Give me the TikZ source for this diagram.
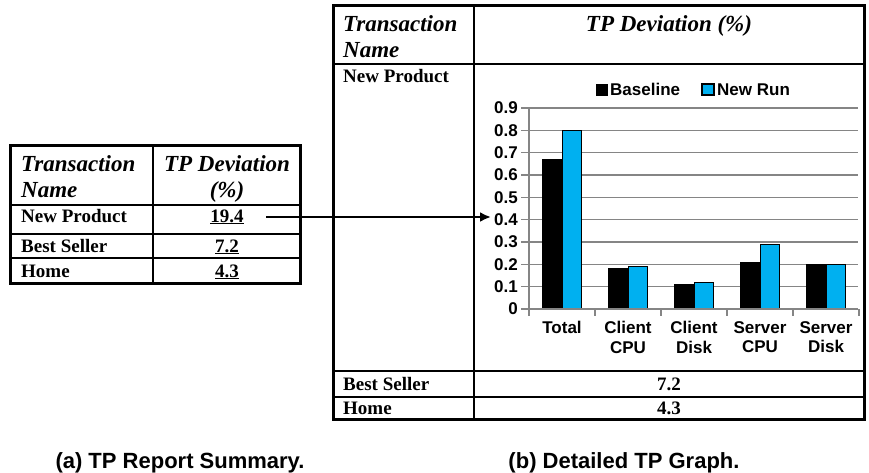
\documentclass[tikz,border=0pt]{standalone}
\usepackage{fontspec}
\setmainfont{Liberation Serif}
\newfontfamily\arialf{Liberation Sans}
\usetikzlibrary{arrows.meta}
\definecolor{runblue}{HTML}{00B0F0}
\definecolor{gridgray}{HTML}{858585}
\tikzset{
 hdr/.style={font=\fontsize{23}{26}\selectfont\bfseries\itshape, inner sep=0pt},
 body/.style={font=\fontsize{19}{22}\selectfont\bfseries, inner sep=0pt},
 chartlbl/.style={font=\arialf\fontsize{17}{19.7}\selectfont\bfseries, inner sep=0pt},
 captiontext/.style={font=\arialf\fontsize{22}{25}\selectfont\bfseries, inner sep=0pt},
 outerline/.style={line width=3pt},
 innerline/.style={line width=2.2pt},
 gridline/.style={draw=gridgray, line width=1.5pt},
 barB/.style={fill=black, draw=black, line width=1.2pt},
 barN/.style={fill=runblue, draw=black, line width=1.2pt},
 arr/.style={line width=2.6pt, -{Latex[length=11pt,width=10pt]}},
}
\begin{document}
\begin{tikzpicture}[x=1pt,y=-1pt]
\useasboundingbox (0,0) rectangle (869,472);
% ---------- left table ----------
\draw[innerline] (153,145) -- (153,283);
\draw[innerline] (10,205) -- (300,205);
\draw[innerline] (10,234) -- (300,234);
\draw[innerline] (10,258) -- (300,258);
\draw[outerline] (10,145) rectangle (300,283);
\node[hdr, anchor=base west] (lt1) at (21,171) {Transaction};
\node[hdr, anchor=base west] (lt2) at (21,197) {Name};
\node[hdr, anchor=base] (lh1) at (227,171) {TP Deviation};
\node[hdr, anchor=base] (lh2) at (227,197) {(\%)};
\node[body, anchor=base west] (lnp) at (21,222) {New Product};
\node[body, anchor=base] (v194) at (227,222) {\underline{19.4}};
\node[body, anchor=base west] (lbs) at (21,252) {Best Seller};
\node[body, anchor=base] (v72) at (227,252) {\underline{7.2}};
\node[body, anchor=base west] (lhm) at (21,277) {Home};
\node[body, anchor=base] (v43) at (227,277) {\underline{4.3}};
% ---------- right table ----------
\draw[innerline] (474,5) -- (474,419);
\draw[innerline] (333,64) -- (864,64);
\draw[innerline] (333,371) -- (864,371);
\draw[innerline] (333,397) -- (864,397);
\draw[outerline] (333,5) rectangle (864,419);
\node[hdr, anchor=base west] (rt1) at (343,31) {Transaction};
\node[hdr, anchor=base west] (rt2) at (343,57) {Name};
\node[hdr, anchor=base] (rh) at (669,31) {TP Deviation (\%)};
\node[body, anchor=base west] (rnp) at (343,82) {New Product};
\node[body, anchor=base west] (rbs) at (343,390) {Best Seller};
\node[body, anchor=base] (r72) at (669,390) {7.2};
\node[body, anchor=base west] (rhm) at (343,414) {Home};
\node[body, anchor=base] (r43) at (669,414) {4.3};
% ---------- chart ----------
\foreach \v in {1,...,9} {
  \draw[gridline] (529,309-\v*22.33) -- (858,309-\v*22.33);
  \draw[gridline] (521,309-\v*22.33) -- (529,309-\v*22.33);
  \node[chartlbl, anchor=east] (yl\v) at (518,309-\v*22.33) {0.\v};
}
\node[chartlbl, anchor=east] (yl0) at (518,309) {0};
\foreach \i/\b/\n in {0/0.67/0.80, 1/0.18/0.19, 2/0.11/0.12, 3/0.21/0.29, 4/0.20/0.20} {
  \draw[barB] (529+66*\i+13.7,309) rectangle (529+66*\i+33.3,309-\b*223.3);
  \draw[barN] (529+66*\i+33.3,309) rectangle (529+66*\i+52.3,309-\n*223.3);
}
\draw[gridline] (529,309) -- (858,309);
\draw[gridline] (521,309) -- (529,309);
\draw[gridline] (529,108) -- (529,309);
\foreach \i in {0,...,5} {
  \draw[gridline] (529+66*\i,309) -- (529+66*\i,316);
}
\node[chartlbl, anchor=north, align=center] (c0) at (562,321) {Total};
\node[chartlbl, anchor=north, align=center] (c1) at (628,321) {Client\\CPU};
\node[chartlbl, anchor=north, align=center] (c2) at (694,321) {Client\\Disk};
\node[chartlbl, anchor=north, align=center] (c3) at (760,321) {Server\\CPU};
\node[chartlbl, anchor=north, align=center] (c4) at (826,321) {Server\\Disk};
% legend
\draw[fill=black] (596,84) rectangle (607,95);
\node[chartlbl, anchor=base west] (lgb) at (610,95) {Baseline};
\draw[fill=runblue, draw=black, line width=1.2pt] (702,84) rectangle (714,95);
\node[chartlbl, anchor=base west] (lgn) at (717,95) {New Run};
% ---------- arrow ----------
\coordinate (arrS) at (266,217);
\coordinate (arrE) at (491,217);
\draw[arr] (arrS) -- (arrE);
% ---------- captions ----------
\node[captiontext, anchor=base] (capa) at (180,468) {(a) TP Report Summary.};
\node[captiontext, anchor=base] (capb) at (624,468) {(b) Detailed TP Graph.};
\end{tikzpicture}
\end{document}
